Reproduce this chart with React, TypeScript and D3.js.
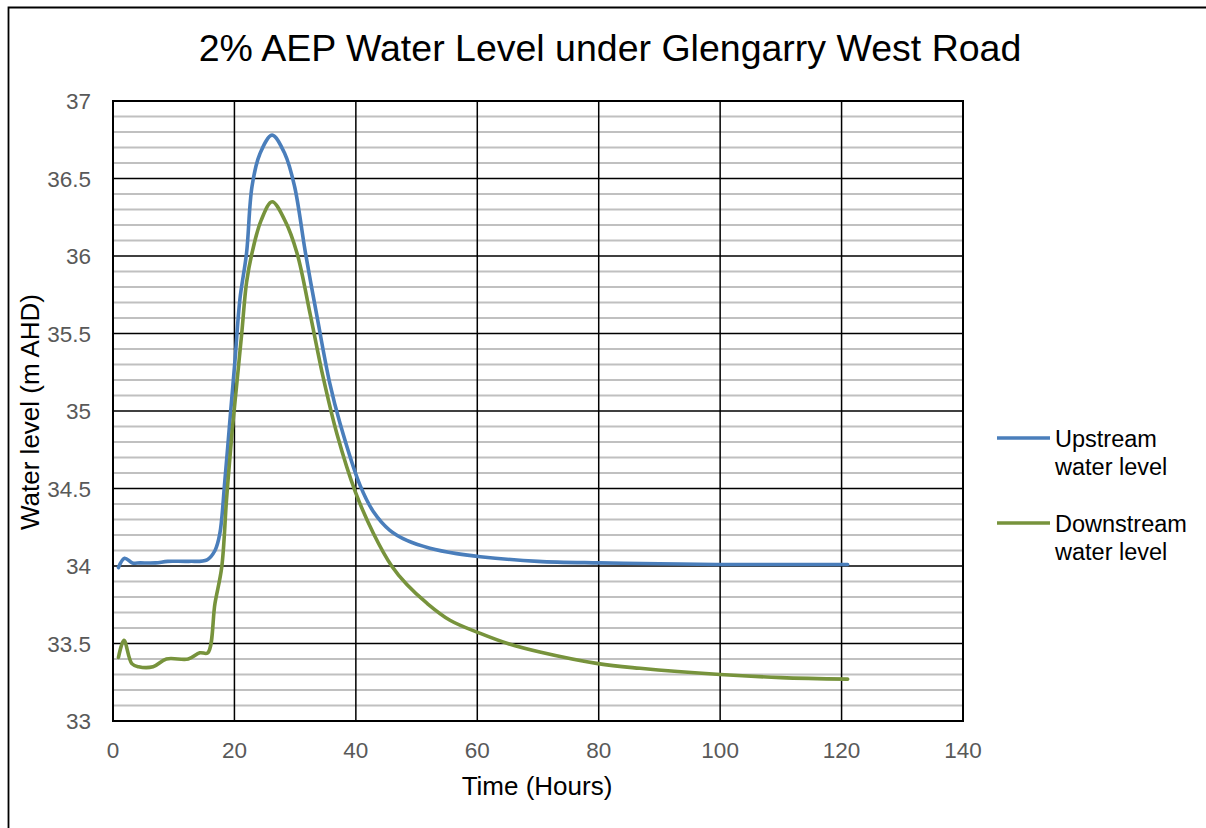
import { useEffect, useRef } from 'react'
import * as d3 from 'd3'

const hours = [0.9, 1.9, 3.2, 4.5, 7, 9, 12.5, 15.5, 16.8, 17.6, 18.4, 19.3, 20.1, 20.9, 22.0, 22.9, 24.2, 26.2, 28.3, 29.9, 31.7, 33.6, 35.7, 37.4, 40.7, 42.9, 45.6, 48.4, 52.2, 56.6, 60.5, 70, 80, 90, 100, 110, 121]
const upstream = [33.99, 34.05, 34.02, 34.02, 34.02, 34.03, 34.03, 34.04, 34.1, 34.21, 34.54, 34.96, 35.33, 35.72, 36.02, 36.45, 36.66, 36.78, 36.66, 36.45, 36.02, 35.61, 35.18, 34.92, 34.52, 34.35, 34.23, 34.165, 34.115, 34.08, 34.06, 34.03, 34.02, 34.015, 34.01, 34.01, 34.01]

const dsHours = [0.9, 1.8, 3.1, 4.2, 6.6, 8.8, 12.4, 14.3, 15.6, 16.8, 17.9, 18.7, 19.6, 20.4, 21.2, 22.0, 22.9, 24.4, 26.2, 28.3, 30.3, 32.5, 34.6, 36.9, 39.9, 42.9, 45.9, 48.4, 51.7, 55.5, 60.5, 65, 70.3, 79.9, 86.8, 100, 110, 121]
const downstream = [33.41, 33.52, 33.37, 33.35, 33.35, 33.4, 33.4, 33.44, 33.44, 33.76, 33.99, 34.43, 34.86, 35.18, 35.5, 35.83, 36.02, 36.23, 36.35, 36.23, 36.02, 35.62, 35.22, 34.85, 34.48, 34.21, 34.0, 33.88, 33.76, 33.65, 33.565, 33.5, 33.445, 33.37, 33.34, 33.3, 33.28, 33.27]

const xTicks = [0, 20, 40, 60, 80, 100, 120, 140]
const yTicks = [33, 33.5, 34, 34.5, 35, 35.5, 36, 36.5, 37]

const series = [
  { name: ['Upstream', 'water level'], color: '#4a7ebb', x: hours, y: upstream },
  { name: ['Downstream', 'water level'], color: '#77933c', x: dsHours, y: downstream },
]

export default function App() {
  const svgRef = useRef<SVGSVGElement>(null)

  useEffect(() => {
    if (!svgRef.current) return
    const svg = d3.select(svgRef.current)
    svg.selectAll('*').remove()

    const width = 1206
    const height = 828
    const margin = { top: 101, left: 113, right: 243, bottom: 107 }
    const innerW = width - margin.left - margin.right
    const innerH = height - margin.top - margin.bottom
    const font = 'Liberation Sans, Arial, sans-serif'

    svg.attr('width', width).attr('height', height)
    svg.append('rect').attr('width', width).attr('height', height).attr('fill', '#fff')

    // outer chart frame (only top and left edges are in view)
    svg.append('path')
      .attr('d', `M8.5,${height}V7.5H${width}`)
      .attr('fill', 'none').attr('stroke', '#000').attr('stroke-width', 1.8)

    svg.append('text')
      .attr('x', 610).attr('y', 61)
      .attr('text-anchor', 'middle')
      .style('font-family', font).style('font-size', '37.5px').style('fill', '#000')
      .text('2% AEP Water Level under Glengarry West Road')

    const x = d3.scaleLinear().domain([0, 140]).range([0, innerW])
    const y = d3.scaleLinear().domain([33, 37]).range([innerH, 0])

    const g = svg.append('g').attr('transform', `translate(${margin.left},${margin.top})`)

    // minor grid every 0.1
    const minor = d3.range(331, 370).map(v => v / 10).filter(v => Math.round(v * 10) % 5 !== 0)
    g.selectAll('.minor').data(minor).enter().append('line')
      .attr('x1', 0).attr('x2', innerW)
      .attr('y1', d => y(d)).attr('y2', d => y(d))
      .attr('stroke', '#c0c0c0').attr('stroke-width', 2)

    g.selectAll('.majorY').data(yTicks).enter().append('line')
      .attr('x1', 0).attr('x2', innerW)
      .attr('y1', d => y(d)).attr('y2', d => y(d))
      .attr('stroke', '#000').attr('stroke-width', 1.5)

    g.selectAll('.majorX').data(xTicks).enter().append('line')
      .attr('y1', 0).attr('y2', innerH)
      .attr('x1', d => x(d)).attr('x2', d => x(d))
      .attr('stroke', '#000').attr('stroke-width', 1.5)

    g.append('rect').attr('width', innerW).attr('height', innerH)
      .attr('fill', 'none').attr('stroke', '#000').attr('stroke-width', 2)

    // tick labels
    g.selectAll('.yl').data(yTicks).enter().append('text')
      .attr('x', -22).attr('y', d => y(d) + 8)
      .attr('text-anchor', 'end')
      .style('font-family', font).style('font-size', '22.5px').style('fill', '#595959')
      .text(d => d3.format('')(d))

    g.selectAll('.xl').data(xTicks).enter().append('text')
      .attr('x', d => x(d)).attr('y', innerH + 37)
      .attr('text-anchor', 'middle')
      .style('font-family', font).style('font-size', '22.5px').style('fill', '#595959')
      .text(d => d)

    svg.append('text')
      .attr('x', 537).attr('y', 795)
      .attr('text-anchor', 'middle')
      .style('font-family', font).style('font-size', '26px').style('fill', '#000')
      .text('Time (Hours)')

    svg.append('text')
      .attr('transform', `translate(39,${412}) rotate(-90)`)
      .attr('text-anchor', 'middle')
      .style('font-family', font).style('font-size', '26px').style('fill', '#000')
      .text('Water level (m AHD)')

    const line = d3.line<[number, number]>()
      .x(d => x(d[0])).y(d => y(d[1]))
      .curve(d3.curveCatmullRom.alpha(0.5))

    series.forEach(s => {
      g.append('path')
        .datum(s.x.map((t, i) => [t, s.y[i]] as [number, number]))
        .attr('d', line)
        .attr('fill', 'none')
        .attr('stroke', s.color)
        .attr('stroke-width', 3.6)
        .attr('stroke-linejoin', 'round')
        .attr('stroke-linecap', 'round')
    })

    // legend
    const legend = svg.append('g').attr('transform', 'translate(997,438)')
    series.forEach((s, i) => {
      const row = legend.append('g').attr('transform', `translate(0,${i * 85})`)
      row.append('line').attr('x1', 0).attr('x2', 53)
        .attr('stroke', s.color).attr('stroke-width', 3.6)
      s.name.forEach((t, j) => {
        row.append('text')
          .attr('x', 58).attr('y', 9 + j * 28)
          .style('font-family', font).style('font-size', '23.5px').style('fill', '#000')
          .text(t)
      })
    })
  }, [])

  return (
    <div style={{ position: 'absolute', left: 0, top: 0 }}>
      <svg ref={svgRef} style={{ display: 'block' }} />
    </div>
  )
}
